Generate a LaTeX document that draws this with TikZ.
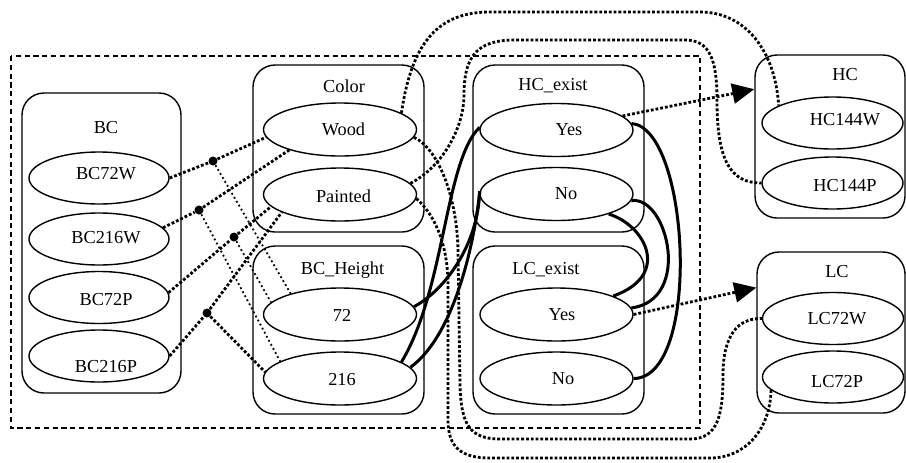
\documentclass[tikz,border=0pt]{standalone}
\usepackage{fontspec}
\setmainfont{Liberation Serif}
\usetikzlibrary{arrows.meta, shapes.geometric}

\begin{document}
\begin{tikzpicture}[x=0.5pt, y=-0.5pt,
    font=\fontsize{9.15pt}{11pt}\selectfont,
    cluster/.style={draw, rounded corners=11pt, line width=0.7pt, inner sep=0pt},
    oval/.style={ellipse, draw, line width=0.7pt, inner sep=0pt, minimum width=76.5pt, minimum height=26.5pt},
    smalloval/.style={oval, minimum width=70.5pt, minimum height=26pt},
    junc/.style={circle, fill, inner sep=0pt, minimum size=4.5pt},
    dots/.style={line width=1.4pt, dash pattern=on 1.4pt off 1pt},
    finedots/.style={line width=0.9pt, dash pattern=on 0.9pt off 1.4pt},
    link/.style={line width=1.5pt},
    tip/.style={-{Triangle[length=11pt, width=10pt]}}]
    \useasboundingbox (0,0) rectangle (906,462);
    % Outer group
    \draw[line width=0.6pt, dash pattern=on 2.6pt off 1.8pt] (11,56) rectangle (700,428);
    % Cluster frames and titles
    \node[cluster, minimum width=79.5pt, minimum height=150pt] (bcbox) at (101.5,243) {};
    \node (bctitle) at (106,128) {BC};
    \node[cluster, minimum width=85.5pt, minimum height=83.5pt] (colorbox) at (338.5,148.5) {};
    \node (colortitle) at (344,86) {Color};
    \node[cluster, minimum width=85.5pt, minimum height=84pt] (heightbox) at (338.5,330) {};
    \node (heighttitle) at (342.5,270) {BC\_Height};
    \node[cluster, minimum width=85.5pt, minimum height=83.5pt] (hcexbox) at (558.5,148.5) {};
    \node (hcextitle) at (553,86) {HC\_exist};
    \node[cluster, minimum width=85.5pt, minimum height=84pt] (lcexbox) at (558.5,330) {};
    \node (lcextitle) at (546,270) {LC\_exist};
    \node[cluster, minimum width=75pt, minimum height=81.5pt] (hcbox) at (830,136.5) {};
    \node (hctitle) at (845,75) {HC};
    \node[cluster, minimum width=74pt, minimum height=80.5pt] (lcbox) at (831,332.5) {};
    \node (lctitle) at (837,272) {LC};
    % BC items
    \node[smalloval, minimum width=70pt, label={[xshift=3.5pt, yshift=2.25pt]center:BC72W}] (bc72w) at (99,178) {};
    \node[smalloval, minimum width=70pt, label={[xshift=3.5pt, yshift=0.75pt]center:BC216W}] (bc216w) at (99,239) {};
    \node[smalloval, minimum width=70pt, label={[xshift=3.5pt, yshift=-1.25pt]center:BC72P}] (bc72p) at (99,297.5) {};
    \node[smalloval, minimum width=70pt, label={[xshift=3.5pt, yshift=-5.25pt]center:BC216P}] (bc216p) at (99,356) {};
    % Color and BC_Height
    \node[oval, label={[xshift=1.75pt]center:Wood}] (wood) at (340,129.5) {};
    \node[oval, label={[xshift=1.75pt, yshift=-0.75pt]center:Painted}] (painted) at (340,194.5) {};
    \node[oval, label={[xshift=1pt, yshift=-0.5pt]center:72}] (h72) at (340,314.5) {};
    \node[oval, label={[xshift=1pt, yshift=-0.5pt]center:216}] (h216) at (340,378.5) {};
    % HC_exist and LC_exist
    \node[oval, label={[xshift=6.25pt]center:Yes}] (hcyes) at (556.5,130) {};
    \node[oval, label={[xshift=4.75pt]center:No}] (hcno) at (556.5,194) {};
    \node[oval, label={[xshift=2.75pt]center:Yes}] (lcyes) at (556.5,314.5) {};
    \node[oval, label={[xshift=3.25pt]center:No}] (lcno) at (556.5,378.5) {};
    % HC and LC items
    \node[smalloval, label={[xshift=6.25pt, yshift=1.5pt]center:HC144W}] (hc144w) at (832.5,123) {};
    \node[smalloval, label={[xshift=6.25pt, yshift=-1.25pt]center:HC144P}] (hc144p) at (832.5,183) {};
    \node[smalloval, label={[xshift=2pt]center:LC72W}] (lc72w) at (833,318.5) {};
    \node[smalloval, label={[xshift=2pt, yshift=-2.25pt]center:LC72P}] (lc72p) at (833,377) {};
    % Junctions
    \node[junc] (j1) at (213,161) {};
    \node[junc] (j2) at (199,210) {};
    \node[junc] (j3) at (234,237) {};
    \node[junc] (j4) at (207,313) {};
    % BC to Color and BC_Height
    \draw[dots] (bc72w.east) -- (j1) -- (wood.186);
    \draw[finedots] (j1) -- (h72.157);
    \draw[dots] (bc216w.10) -- (j2) -- (wood.202);
    \draw[finedots] (j2) -- (h216.164);
    \draw[dots] (bc72p.4) -- (j3) -- (painted.190);
    \draw[finedots] (j3) -- (h72.170);
    \draw[dots] (bc216p.east) -- (j4) -- (painted.197);
    \draw[dots] (j4) -- (h216.175);
    % Color to HC and LC
    \draw[dots] (wood.15) .. controls (412,40) and (440,12) .. (490,12) -- (700,12)
        .. controls (745,12) and (775,50) .. (hc144w.162);
    \draw[dots] (painted.9) .. controls (445,165) and (464,125) .. (464,95)
        .. controls (464,55) and (478,40) .. (515,40) -- (685,40)
        .. controls (710,40) and (717,60) .. (717,100)
        .. controls (717,160) and (730,183) .. (hc144p.west);
    \draw[dots] (wood.354) .. controls (440,150) and (457,200) .. (458,250) -- (460,385)
        .. controls (461,425) and (470,439) .. (500,439) -- (690,439)
        .. controls (718,439) and (723,415) .. (723,375)
        .. controls (723,335) and (738,318) .. (lc72w.west);
    \draw[dots] (painted.357) .. controls (435,215) and (448,245) .. (448,285) -- (448,420)
        .. controls (448,448) and (462,458) .. (490,458) -- (710,458)
        .. controls (745,458) and (770,430) .. (lc72p.192);
    % BC_Height to HC_exist
    \draw[link] (h72.6) .. controls (445,290) and (478,245) .. (hcno.178);
    \draw[link] (h216.15) .. controls (445,290) and (445,160) .. (hcyes.178);
    \draw[link] (h216.9) .. controls (455,335) and (475,240) .. (hcno.178);
    % HC_exist to LC_exist
    \draw[link] (hcno.339) .. controls (645,225) and (672,275) .. (lcyes.18);
    \draw[link] (hcno.355) .. controls (668,196) and (692,300) .. (lcyes.5);
    \draw[link] (hcyes.5) .. controls (690,128) and (702,378) .. (lcno.east);
    % Exist to clusters
    \draw[dots, tip] (hcyes.12) -- (hcbox.148);
    \draw[dots, tip] (lcyes.east) -- (lcbox.149);
\end{tikzpicture}
\end{document}
